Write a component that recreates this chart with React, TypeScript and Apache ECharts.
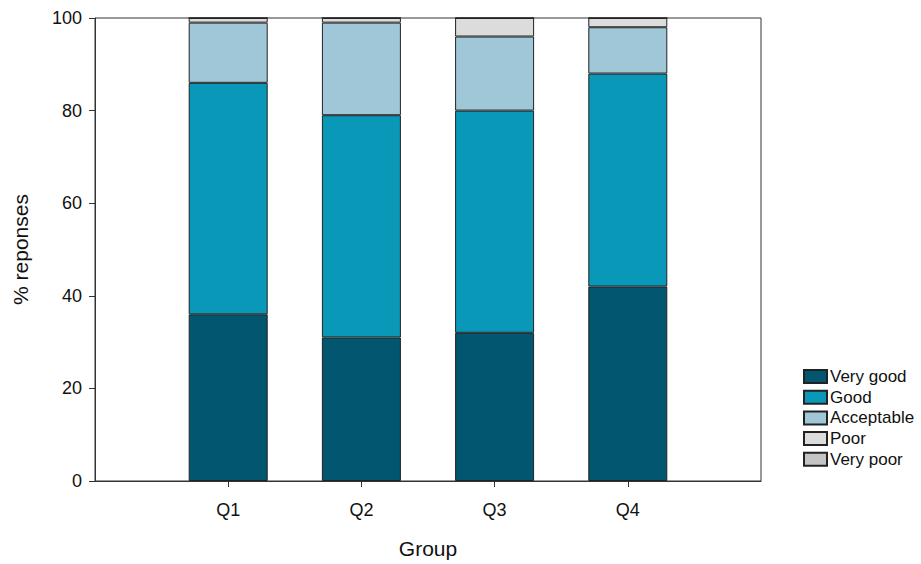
import React, { useEffect, useRef } from "react";
import * as echarts from "echarts";

const categories = ["", "Q1", "Q2", "Q3", "Q4", ""];
const veryGood = [null, 36, 31, 32, 42, null];
const good = [null, 50, 48, 48, 46, null];
const acceptable = [null, 13, 20, 16, 10, null];
const poor = [null, 1, 1, 4, 2, null];
const veryPoor = [null, 0, 0, 0, 0, null];
const seriesNames = ["Very good", "Good", "Acceptable", "Poor", "Very poor"];
const colors = ["#03566f", "#0a98b8", "#a0c7d7", "#dcdcdc", "#c4c4c4"];

export default function App() {
  const ref = useRef<HTMLDivElement>(null);
  useEffect(() => {
    document.body.style.margin = "0";
    const chart = echarts.init(ref.current!, null, { renderer: "svg" });
    const font = "Liberation Sans, Arial, sans-serif";
    const data = [veryGood, good, acceptable, poor, veryPoor];
    chart.setOption({
      animation: false,
      textStyle: { fontFamily: font },
      grid: {
        left: 95, right: 160, top: 18, bottom: 79,
        show: true, borderColor: "#333", borderWidth: 1, backgroundColor: "transparent",
      },
      legend: {
        orient: "vertical", left: 803, top: 368, padding: 0,
        icon: "rect",
        itemWidth: 23, itemHeight: 13, itemGap: 3.7,
        textStyle: { fontSize: 17, color: "#111", fontFamily: font, padding: [0, 0, 0, -2] },
        data: seriesNames,
      },
      xAxis: {
        type: "category",
        data: categories,
        boundaryGap: false,
        name: "Group",
        nameLocation: "middle",
        nameGap: 57,
        nameTextStyle: { fontSize: 21, color: "#111" },
        axisLine: { lineStyle: { color: "#333" } },
        axisTick: { length: 6, interval: (i: number, v: string) => v !== "", lineStyle: { color: "#333" } },
        axisLabel: { fontSize: 18, color: "#111", margin: 20, interval: 0 },
        splitLine: { show: false },
      },
      yAxis: {
        type: "value",
        min: 0, max: 100, interval: 20,
        name: "% reponses",
        nameLocation: "middle",
        nameGap: 64,
        nameTextStyle: { fontSize: 21, color: "#111" },
        axisLine: { show: true, lineStyle: { color: "#333" } },
        axisTick: { show: true, length: 6, lineStyle: { color: "#333" } },
        axisLabel: { fontSize: 18, color: "#111", margin: 13 },
        splitLine: { show: false },
      },
      series: seriesNames.map((name, i) => ({
        name,
        type: "bar",
        stack: "total",
        barWidth: 79,
        data: data[i],
        itemStyle: { color: colors[i], borderColor: "#222", borderWidth: 1 },
      })),
    });
    return () => chart.dispose();
  }, []);
  return <div ref={ref} style={{ width: 921, height: 564 }} />;
}
